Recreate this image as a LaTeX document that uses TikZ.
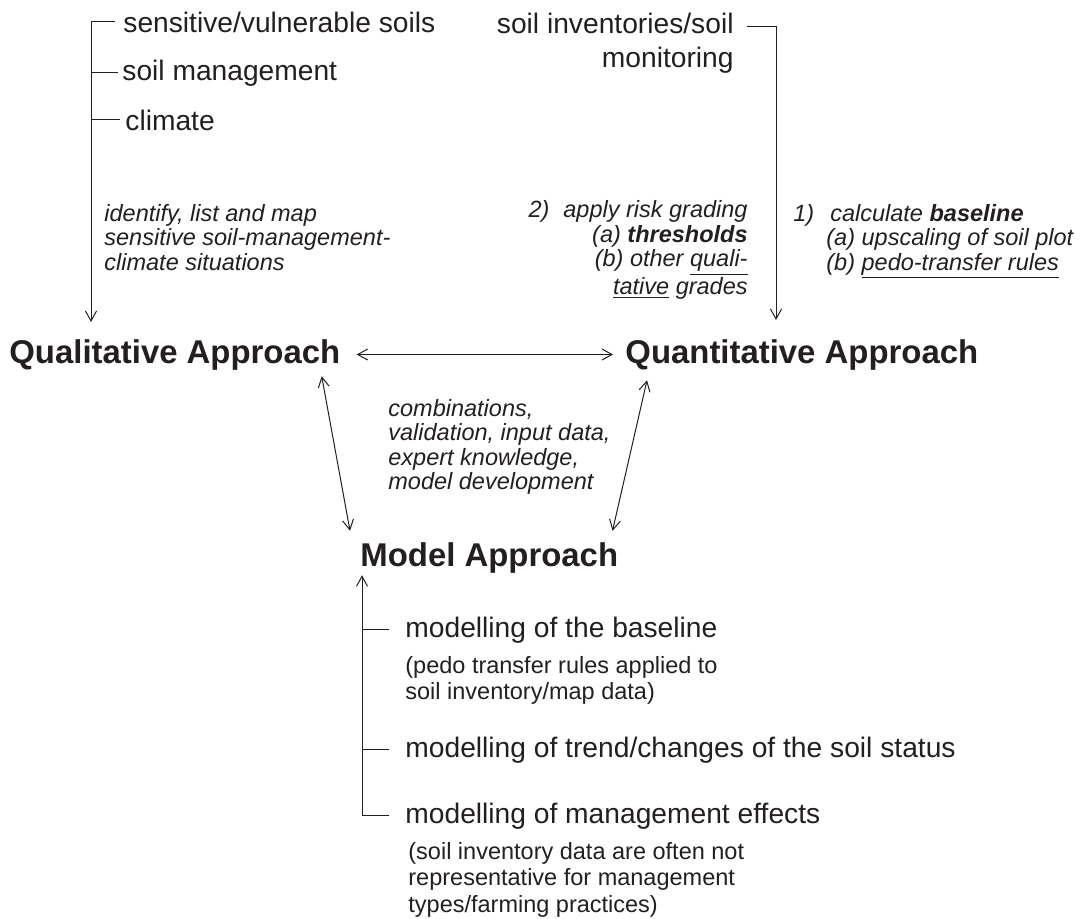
\documentclass[tikz,border=0pt]{standalone}
\usepackage{fontspec}
\setmainfont{Liberation Sans}
\usetikzlibrary{arrows.meta}
\definecolor{ink}{RGB}{35,31,32}

\begin{document}
\begin{tikzpicture}[x=0.5pt,y=-0.5pt,
    line/.style={draw=ink,line width=0.5pt},
    arr/.style={line,-{Straight Barb[length=5pt,width=5.5pt]}},
    darr/.style={line,{Straight Barb[length=5pt,width=5.5pt]}-{Straight Barb[length=5pt,width=5.5pt]}},
    head/.style={text=ink,inner sep=0pt,font=\fontsize{16.45}{20}\selectfont\bfseries},
    item/.style={text=ink,inner sep=0pt,font=\fontsize{14.1}{17}\selectfont},
    note/.style={text=ink,inner sep=0pt,font=\fontsize{11.75}{12.25}\selectfont\itshape},
    remark/.style={text=ink,inner sep=0pt,font=\fontsize{11.75}{13.25}\selectfont}]
    \useasboundingbox (0,0) rectangle (1080,918);

    \node[head,anchor=base west] (qual)  at (9,363)   {Qualitative Approach};
    \node[head,anchor=base west] (quant) at (625,363) {Quantitative Approach};
    \node[head,anchor=base west] (model) at (360,566) {Model Approach};

    \node[item,anchor=base west] (sens) at (123,32)  {sensitive/vulnerable soils};
    \node[item,anchor=base west] (mgmt) at (122,80)  {soil management};
    \node[item,anchor=base west] (clim) at (125,130) {climate};
    \node[note,anchor=base west,align=left] (ident) at (104,270)
        {identify, list and map\\sensitive soil-management-\\climate situations};
    \coordinate (lend) at (91,322);
    \draw[arr] ([xshift=-4pt]sens.west) -| (lend);
    \draw[line] ([xshift=-2pt]mgmt.west) -- (mgmt.west -| lend);
    \draw[line] ([xshift=-2.5pt]clim.west) -- (clim.west -| lend);

    \node[item,anchor=base east,align=right] (inv) at (734,67) {soil inventories/soil\\monitoring};
    \node[note,anchor=base east,align=right] (grade) at (748,294.5)
        {2)\hspace{7pt}apply risk grading\\(a) \textbf{thresholds}\\(b) other \underline{quali-}\\\underline{tative} grades};
    \node[note,anchor=base west,align=left] (calc) at (793,270)
        {1)\hspace{8pt}calculate \textbf{baseline}\\\hspace*{16.5pt}(a) upscaling of soil plot\\\hspace*{16.5pt}(b) \underline{pedo-transfer rules}};
    \coordinate (rend) at (776,320);
    \draw[arr] ([xshift=6.5pt,yshift=20.5pt]inv.base east) -| (rend);

    \draw[darr] ([xshift=8pt]qual.east) -- ([xshift=-6pt]quant.west);
    \draw[darr] ([xshift=-9.5pt,yshift=-3pt]qual.south east) -- ([xshift=-5pt,yshift=5.5pt]model.north west);
    \draw[darr] ([xshift=11pt,yshift=-5pt]quant.south west) -- ([xshift=-3pt,yshift=5.5pt]model.north east);
    \node[note,anchor=base west,align=left] (comb) at (388,489.5)
        {combinations,\\validation, input data,\\expert knowledge,\\model development};

    \node[item,anchor=base west] (mbase) at (405,637) {modelling of the baseline};
    \node[remark,anchor=base west,align=left] (mbasenote) at (405,699.5)
        {(pedo transfer rules applied to\\soil inventory/map data)};
    \node[item,anchor=base west] (mtrend) at (405,757) {modelling of trend/changes of the soil status};
    \node[item,anchor=base west] (meff) at (405,823) {modelling of management effects};
    \node[remark,anchor=base west,align=left] (meffnote) at (408,912)
        {(soil inventory data are often not\\representative for management\\types/farming practices)};
    \coordinate (mtip) at ([xshift=1pt,yshift=-1pt]model.south west);
    \draw[arr] ([xshift=-8pt]meff.west) -| (mtip);
    \draw[line] ([xshift=-8pt]mbase.west) -- (mbase.west -| mtip);
    \draw[line] ([xshift=-8pt]mtrend.west) -- (mtrend.west -| mtip);
\end{tikzpicture}
\end{document}
